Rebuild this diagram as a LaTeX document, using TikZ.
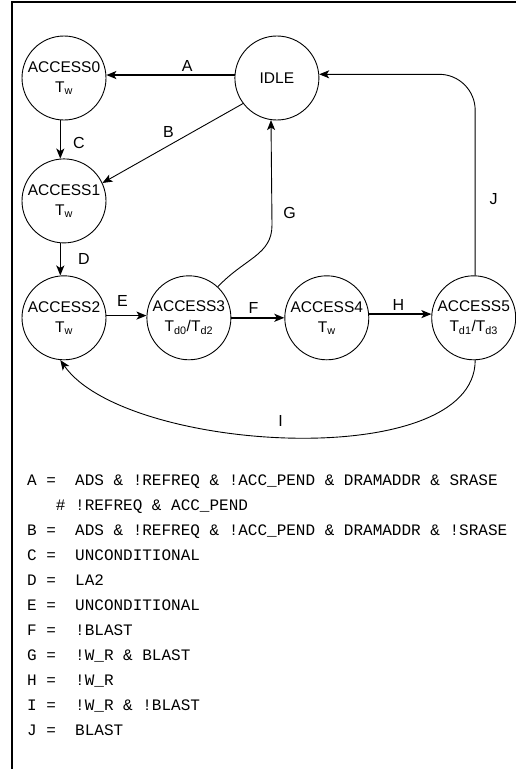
\documentclass[tikz,border=0pt]{standalone}
\usepackage{fontspec}
\setmainfont{Liberation Sans}
\newfontfamily\condfont{Liberation Mono}
\usetikzlibrary{positioning,arrows.meta}

\begin{document}
\begin{tikzpicture}[x=1pt,y=1pt,
  state/.style={draw,circle,line width=0.9pt,minimum size=84pt,inner sep=0pt,
                align=center,font=\fontsize{15.5}{20}\selectfont},
  lbl/.style={inner sep=2pt,font=\fontsize{16}{18}\selectfont},
  cond/.style={anchor=base west,inner sep=0pt,font=\condfont\fontsize{16}{18}\selectfont},
  tr/.style={-{Stealth[length=10pt,width=8pt,inset=2.5pt]},line width=1.6pt},
  trl/.style={-{Stealth[length=10pt,width=8pt,inset=2.5pt]},line width=0.9pt}]
\useasboundingbox (0,0) rectangle (516,-769);
\draw[line width=2pt] (12,-769) -- (12,-2) -- (516,-2);

% states
\node[state] (a0) at (64,-78) {ACCESS0\\T\textsubscript{w}};
\node[state,right=128pt of a0] (idle) {IDLE};
\node[state,below=38pt of a0] (a1) {ACCESS1\\T\textsubscript{w}};
\node[state,below=32pt of a1] (a2) {ACCESS2\\T\textsubscript{w}};
\node[state,right=40pt of a2] (a3) {ACCESS3\\T\textsubscript{d0}/T\textsubscript{d2}};
\node[state,right=53pt of a3] (a4) {ACCESS4\\T\textsubscript{w}};
\node[state,right=62pt of a4] (a5) {ACCESS5\\T\textsubscript{d1}/T\textsubscript{d3}};
\coordinate (gbend) at (272,-225);

% transitions
\draw[tr] (idle.176) -- node[lbl,above=1pt,pos=0.37] {A} (a0.4);
\draw[trl] (idle.217) -- node[lbl,above=6pt,pos=0.53] {B} (a1.25);
\draw[tr] (a0.265) -- node[lbl,right=10pt,pos=0.6] {C} (a1.95);
\draw[tr] (a1.265) -- node[lbl,right=15pt] {D} (a2.95);
\draw[tr] (a2.3) -- node[lbl,above=6pt,pos=0.4] {E} (a3.177);
\draw[tr] (a3) -- node[lbl,above=2pt,pos=0.42] {F} (a4);
\draw[tr] (a4.5) -- node[lbl,above=1pt,pos=0.47] {H} (a5.175);
\draw[trl] (a3.47) .. controls (245,-258) and (272,-255) .. (gbend)
  -- node[lbl,right=9pt,pos=0.11] {G} (idle.262);
\draw[trl,rounded corners=36pt] (a5.88) |- node[lbl,right=12pt,pos=0.19] {J} (idle.5);
\draw[trl] (a5.272) to[out=270,in=305,looseness=0.7]
  node[lbl,above=8pt,pos=0.52] {I} (a2.265);

% conditions
\node[cond] (cA) at (27,-485) {A =\ \ ADS \& !REFREQ \& !ACC\_PEND \& DRAMADDR \& SRASE};
\node[cond] (cA2) at (55.8,-510) {\# !REFREQ \& ACC\_PEND};
\node[cond] (cB) at (27,-535) {B =\ \ ADS \& !REFREQ \& !ACC\_PEND \& DRAMADDR \& !SRASE};
\node[cond] (cC) at (27,-560) {C =\ \ UNCONDITIONAL};
\node[cond] (cD) at (27,-585) {D =\ \ LA2};
\node[cond] (cE) at (27,-610) {E =\ \ UNCONDITIONAL};
\node[cond] (cF) at (27,-635) {F =\ \ !BLAST};
\node[cond] (cG) at (27,-660) {G =\ \ !W\_R \& BLAST};
\node[cond] (cH) at (27,-685) {H =\ \ !W\_R};
\node[cond] (cI) at (27,-710) {I =\ \ !W\_R \& !BLAST};
\node[cond] (cJ) at (27,-735) {J =\ \ BLAST};
\end{tikzpicture}
\end{document}
